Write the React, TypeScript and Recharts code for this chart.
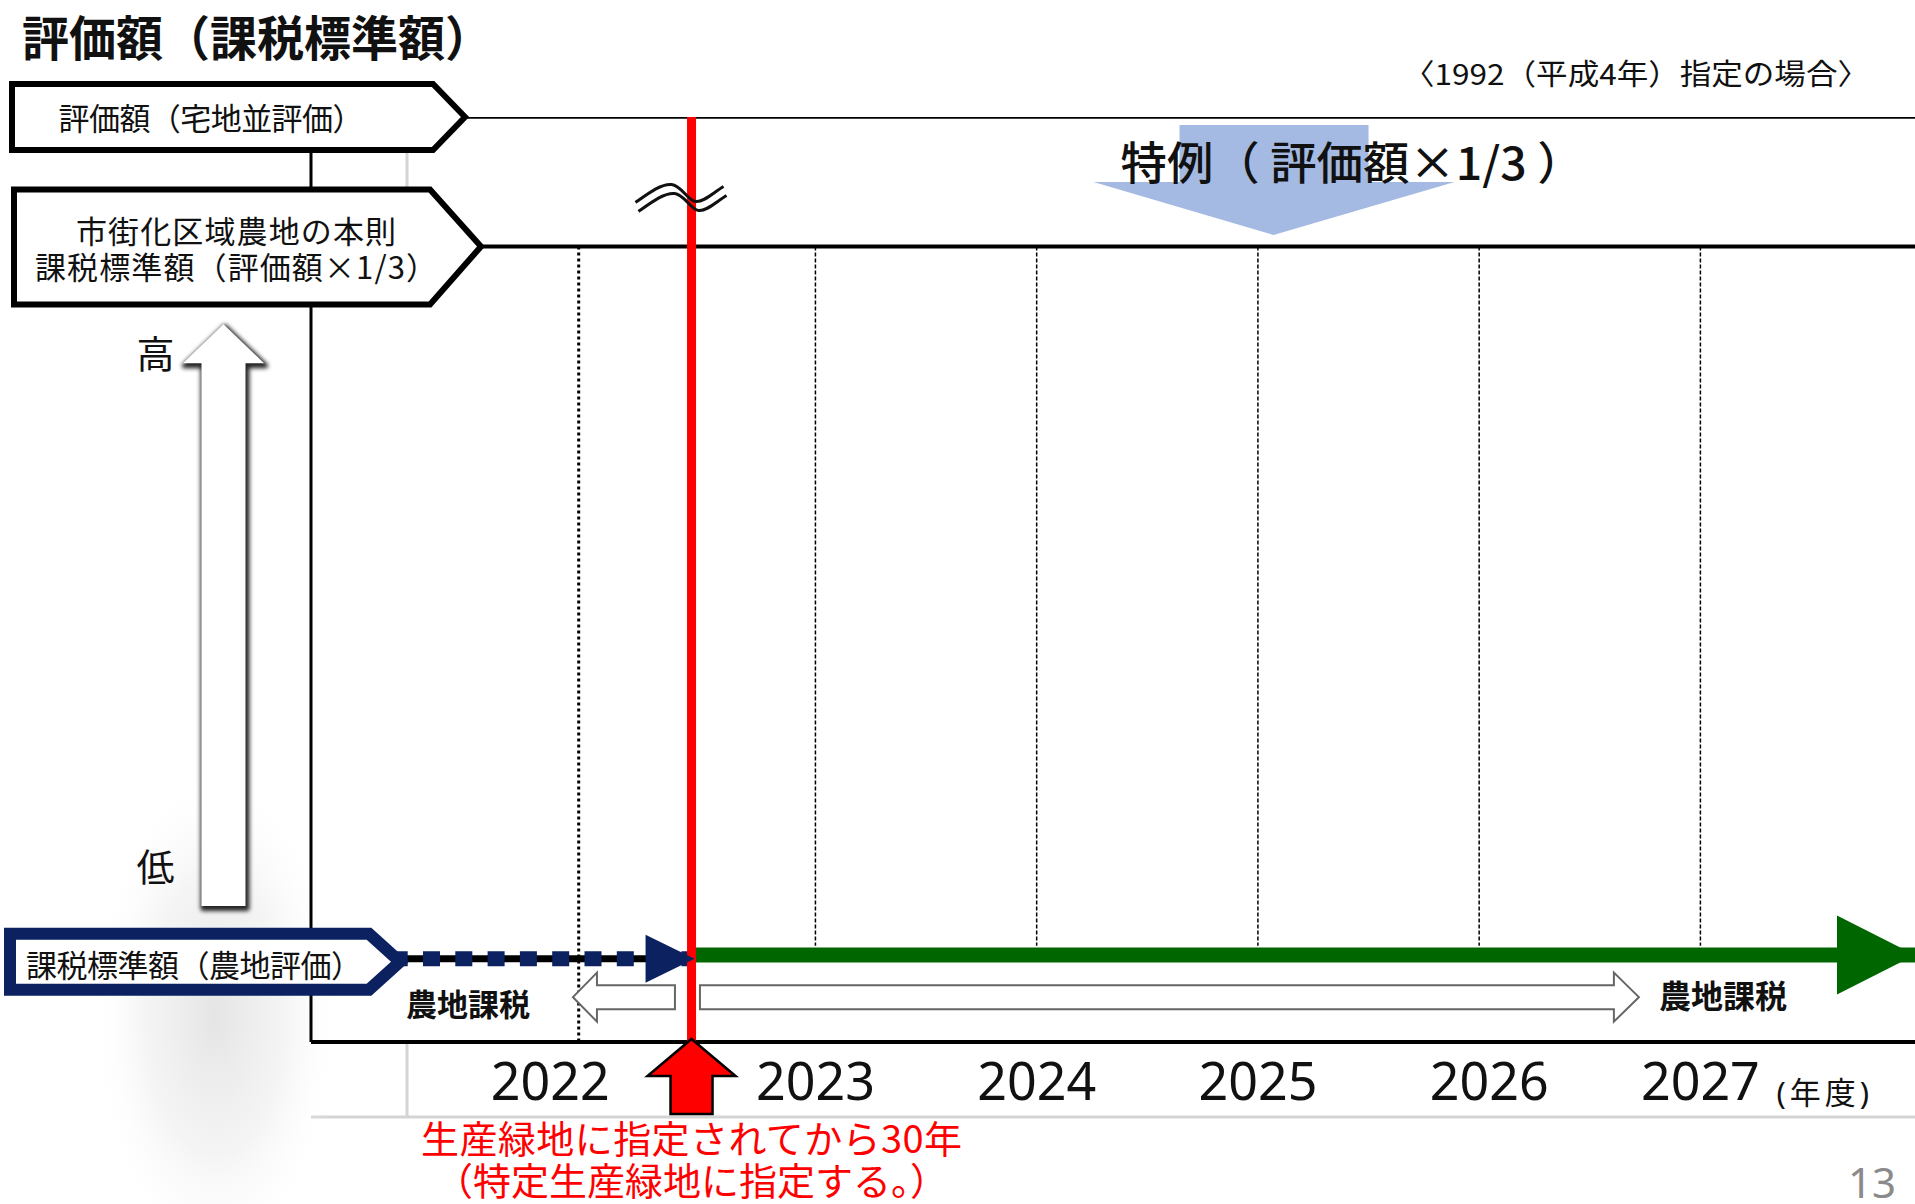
import React from 'react';
import { ComposedChart, Line, XAxis, YAxis, ReferenceLine, ReferenceArea, ReferenceDot } from 'recharts';

const FONT = "'Noto Sans', 'Noto Sans CJK JP', sans-serif";
const FONT_CJK = "'Noto Sans CJK JP', 'Noto Sans', sans-serif";
const NAVY = '#0b2160';
const GREEN = '#006600';
const RED = '#ff0000';

// ---------------- data ----------------
const TITLE = '評価額（課税標準額）';
const SUBTITLE = '〈1992（平成4年）指定の場合〉';
const PAGE_NUMBER = '13';

const YEAR_TICKS = [2022, 2023, 2024, 2025, 2026, 2027];
const YEAR_UNIT = '(年度)';
const X_DOMAIN: [number, number] = [2020.72, 2027.97];
const LEVEL_DOMAIN: [number, number] = [0, 100];

// levels (relative, axis is broken between the two upper levels)
const LEVEL_VALUES = [100, 86, 9.0];
const LEVEL_LABELS = [
  ['評価額（宅地並評価）'],
  ['市街化区域農地の本則', '課税標準額（評価額×1/3）'],
  ['課税標準額（農地評価）'],
];

const DESIGNATION_YEAR = 2022.44; // 30 years after 1992 designation
const BOUNDARY_YEARS = [2021.93, 2023, 2024, 2025, 2026, 2027];

const residentialSeries = [
  { year: 2020.72, value: 100 },
  { year: 2027.97, value: 100 },
];
const standardSeries = [
  { year: 2020.72, value: 86 },
  { year: 2027.97, value: 86 },
];
const farmBeforeSeries = [
  { year: 2020.72, value: 9.0 },
  { year: 2022.44, value: 9.0 },
];
const farmAfterSeries = [
  { year: 2022.44, value: 9.4 },
  { year: 2027.97, value: 9.4 },
];

const FARM_TAX_LABEL = '農地課税';
const FARM_TAX_ARROWS = [
  { from: 2021.904, to: 2022.365, dir: 'left' },
  { from: 2022.478, to: 2026.722, dir: 'right' },
];
const FARM_TAX_BAND: [number, number] = [2.2, 7.5];

const SPECIAL_LABEL = '特例（ 評価額×1/3 ）';
const DESIGNATION_NOTE = ['生産緑地に指定されてから30年', '（特定生産緑地に指定する。）'];

const SCALE_ARROW = { from: 2020.141, to: 2020.508, low: 14.7, high: 77.6 };
const SCALE_LABELS = ['高', '低'];
const BREAK_LEVEL = 91.3;
const FRAME_LEVEL = -8.1;
const FRAME_YEAR = 2021.154;

// ---------------- shapes ----------------
const BOX_GEOM = [
  { top: -33, bottom: 33, left: -299, right: 122, tip: 154, tipDy: 0, stroke: '#000', sw: 6, font: 31, cx: -100, baselines: [13], widths: [305] },
  { top: -57, bottom: 58, left: -297, right: 119, tip: 170, tipDy: 0, stroke: '#000', sw: 6, font: 31, cx: -75, baselines: [-4, 32], widths: [320, 402] },
  { top: -25, bottom: 31, left: -301, right: 58, tip: 89, tipDy: 3, stroke: NAVY, sw: 12, font: 31, cx: -117, baselines: [18], widths: [336] },
];

const LevelTick = (props: any) => {
  const { x, y, payload } = props;
  const i = LEVEL_VALUES.indexOf(payload.value);
  if (i < 0) return null;
  const g = BOX_GEOM[i];
  const d = `M${x + g.left},${y + g.top} L${x + g.right},${y + g.top} L${x + g.tip},${y + g.tipDy} L${x + g.right},${y + g.bottom} L${x + g.left},${y + g.bottom} Z`;
  return (
    <g>
      <path d={d} fill="#fff" stroke={g.stroke} strokeWidth={g.sw} strokeLinejoin="miter" />
      {LEVEL_LABELS[i].map((t, k) => (
        <text
          key={k}
          x={x + g.cx}
          y={y + g.baselines[k]}
          textAnchor="middle"
          fontSize={g.font}
          fontFamily={FONT_CJK}
          fill="#111"
          textLength={g.widths[k]}
          lengthAdjust="spacing"
        >
          {t}
        </text>
      ))}
    </g>
  );
};

const YEAR_NUDGE: Record<number, number> = { 2022: -44, 2026: 10 };

const YearTick = (props: any) => {
  const { x, y, payload } = props;
  const v = payload.value;
  const last = v === YEAR_TICKS[YEAR_TICKS.length - 1];
  return (
    <g>
      <text x={x + (YEAR_NUDGE[v] || 0)} y={y + 58} textAnchor="middle" fontSize={52} fontFamily={FONT} fill="#111">
        {v}
      </text>
      {last && (
        <text x={x + 76} y={y + 62} fontSize={31} fontFamily={FONT} fill="#111" letterSpacing={4}>
          {YEAR_UNIT}
        </text>
      )}
    </g>
  );
};

const ScaleArrowShape = (props: any) => {
  const { x, y, width, height } = props;
  const cx = x + width / 2;
  const headH = 39;
  const sh = 22;
  const d = `M${cx},${y} L${x + width},${y + headH} L${cx + sh},${y + headH} L${cx + sh},${y + height} L${cx - sh},${y + height} L${cx - sh},${y + headH} L${x},${y + headH} Z`;
  return (
    <g>
      <defs>
        <filter id="scaleBlur" x="-100%" y="-20%" width="300%" height="140%">
          <feGaussianBlur stdDeviation="2.2" />
        </filter>
        <radialGradient id="fuzz" cx="50%" cy="50%" r="50%">
          <stop offset="0%" stopColor="#e0e0e0" stopOpacity="0.85" />
          <stop offset="55%" stopColor="#ebebeb" stopOpacity="0.55" />
          <stop offset="100%" stopColor="#ffffff" stopOpacity="0" />
        </radialGradient>
      </defs>
      <ellipse cx={cx - 8} cy={y + height + 110} rx={125} ry={250} fill="url(#fuzz)" />
      <path d={d} fill="#000" stroke="#000" strokeWidth={5} strokeLinejoin="round" transform="translate(1.5,2.5)" filter="url(#scaleBlur)" opacity={0.85} />
      <path d={d} fill="#fff" />
      <text x={cx - 68} y={y + 44} textAnchor="middle" fontSize={38} fontFamily={FONT_CJK} fill="#111">{SCALE_LABELS[0]}</text>
      <text x={cx - 68} y={y + height - 25} textAnchor="middle" fontSize={38} fontFamily={FONT_CJK} fill="#111">{SCALE_LABELS[1]}</text>
    </g>
  );
};

const makeHollowArrow = (dir: string) => (props: any) => {
  const { x, y, width, height } = props;
  const cy = y + height / 2;
  const sh = 12;
  let d: string;
  let label: React.ReactNode;
  if (dir === 'left') {
    const hb = x + 24;
    d = `M${x},${cy} L${hb},${y} L${hb},${cy - sh} L${x + width},${cy - sh} L${x + width},${cy + sh} L${hb},${cy + sh} L${hb},${y + height} Z`;
    label = (
      <text x={x - 43} y={cy + 19} textAnchor="end" fontSize={31} fontWeight={700} fontFamily={FONT_CJK} fill="#111">{FARM_TAX_LABEL}</text>
    );
  } else {
    const r = x + width;
    const hb = r - 25;
    d = `M${r},${cy} L${hb},${y} L${hb},${cy - sh} L${x},${cy - sh} L${x},${cy + sh} L${hb},${cy + sh} L${hb},${y + height} Z`;
    label = (
      <text x={r + 20} y={cy + 11} textAnchor="start" fontSize={32} fontWeight={700} fontFamily={FONT_CJK} fill="#111">{FARM_TAX_LABEL}</text>
    );
  }
  return (
    <g>
      <path d={d} fill="#fff" stroke="#666" strokeWidth={2} />
      {label}
    </g>
  );
};

const SpecialShape = (props: any) => {
  const { x, y } = props;
  return (
    <g>
      <path
        d={`M${x + 488},${y + 8} L${x + 677},${y + 8} L${x + 677},${y + 65} L${x + 763},${y + 65} L${x + 582},${y + 118} L${x + 402},${y + 65} L${x + 488},${y + 65} Z`}
        fill="#a4bae2"
      />
      <text x={x + 429} y={y + 63} fontSize={45} fontWeight={500} fontFamily={FONT_CJK} fill="#111" textLength={463} lengthAdjust="spacingAndGlyphs">
        {SPECIAL_LABEL}
      </text>
    </g>
  );
};

const BreakShape = (props: any) => {
  const { cx, cy } = props;
  const p = (dx: number, dy: number) =>
    `M${cx - 56 + dx},${cy + 5 + dy} C${cx - 42 + dx},${cy - 5 + dy} ${cx - 30 + dx},${cy - 14 + dy} ${cx - 20 + dx},${cy - 13 + dy} C${cx - 10 + dx},${cy - 12 + dy} ${cx - 4 + dx},${cy + 3 + dy} ${cx + 4 + dx},${cy + 4 + dy} C${cx + 12 + dx},${cy + 5 + dy} ${cx + 22 + dx},${cy - 5 + dy} ${cx + 32 + dx},${cy - 11 + dy}`;
  return (
    <g fill="none" stroke="#111" strokeWidth={3}>
      <path d={p(0, 0)} />
      <path d={p(3, 9)} />
    </g>
  );
};

const NavyHead = (props: any) => {
  const { cx, cy } = props;
  return <path d={`M${cx - 46},${cy - 24} L${cx + 3},${cy} L${cx - 46},${cy + 24} Z`} fill={NAVY} />;
};

const GreenHead = (props: any) => {
  const { cx, cy } = props;
  return <path d={`M${cx - 78},${cy - 39.5} L${cx},${cy} L${cx - 78},${cy + 39.5} Z`} fill={GREEN} />;
};

const DesignationShape = (props: any) => {
  const { cx, cy } = props;
  const d = `M${cx},${cy - 3} L${cx + 44},${cy + 34} L${cx + 21},${cy + 34} L${cx + 21},${cy + 72} L${cx - 21},${cy + 72} L${cx - 21},${cy + 34} L${cx - 44},${cy + 34} Z`;
  return (
    <g>
      <path d={d} fill={RED} stroke="#000" strokeWidth={2.5} strokeLinejoin="miter" />
      <text x={cx} y={cy + 111} textAnchor="middle" fontSize={38} fontFamily={FONT_CJK} fill={RED} textLength={541} lengthAdjust="spacing">
        {DESIGNATION_NOTE[0]}
      </text>
      <text x={cx} y={cy + 153} textAnchor="middle" fontSize={38} fontFamily={FONT_CJK} fill={RED}>
        {DESIGNATION_NOTE[1]}
      </text>
    </g>
  );
};

export default function App() {
  return (
    <div style={{ position: 'relative', width: 1915, height: 1204, background: '#fff', overflow: 'hidden' }}>
      <style>{'body{margin:0;}'}</style>
      <ComposedChart width={1915} height={1204} margin={{ top: 117, right: 0, bottom: 102, left: 309 }}>
        {/* faint frame of the underlying slide */}
        <ReferenceLine segment={[{ x: X_DOMAIN[0], y: FRAME_LEVEL }, { x: X_DOMAIN[1], y: FRAME_LEVEL }]} stroke="#d4d4d4" strokeWidth={3} ifOverflow="visible" zIndex={50} />
        <ReferenceLine segment={[{ x: FRAME_YEAR, y: FRAME_LEVEL }, { x: FRAME_YEAR, y: 0 }]} stroke="#d4d4d4" strokeWidth={3} ifOverflow="visible" zIndex={50} />
        <ReferenceLine segment={[{ x: FRAME_YEAR, y: 86 }, { x: FRAME_YEAR, y: 100 }]} stroke="#d4d4d4" strokeWidth={3} ifOverflow="visible" zIndex={50} />

        <ReferenceArea x1={SCALE_ARROW.from} x2={SCALE_ARROW.to} y1={SCALE_ARROW.low} y2={SCALE_ARROW.high} ifOverflow="visible" shape={ScaleArrowShape} zIndex={60} />

        {BOUNDARY_YEARS.map((yr, i) => (
          <ReferenceLine
            key={'b' + i}
            segment={[{ x: yr, y: LEVEL_VALUES[1] }, { x: yr, y: i === 0 ? 0 : 10.4 }]}
            stroke="#000"
            strokeWidth={i === 0 ? 3 : 1.5}
            strokeDasharray={i === 0 ? '3 3' : '4 2'}
            ifOverflow="visible"
            zIndex={300}
          />
        ))}

        <Line data={residentialSeries} dataKey="value" stroke="#000" strokeWidth={3.5} dot={false} activeDot={false} isAnimationActive={false} zIndex={400} />
        <Line data={standardSeries} dataKey="value" stroke="#000" strokeWidth={4} dot={false} activeDot={false} isAnimationActive={false} zIndex={400} />
        <Line data={farmBeforeSeries} dataKey="value" stroke="#000" strokeWidth={7} dot={false} activeDot={false} isAnimationActive={false} zIndex={400} />
        <Line data={farmBeforeSeries} dataKey="value" stroke={NAVY} strokeWidth={15} strokeDasharray="17 15.3" strokeDashoffset={17.2} dot={false} activeDot={false} isAnimationActive={false} zIndex={400} />
        <Line data={farmAfterSeries} dataKey="value" stroke={GREEN} strokeWidth={15} dot={false} activeDot={false} isAnimationActive={false} zIndex={400} />

        {FARM_TAX_ARROWS.map((a, i) => (
          <ReferenceArea key={'a' + i} x1={a.from} x2={a.to} y1={FARM_TAX_BAND[0]} y2={FARM_TAX_BAND[1]} ifOverflow="visible" shape={makeHollowArrow(a.dir)} zIndex={450} />
        ))}
        <ReferenceArea x1={DESIGNATION_YEAR} x2={X_DOMAIN[1]} y1={LEVEL_VALUES[1]} y2={LEVEL_VALUES[0]} ifOverflow="visible" shape={SpecialShape} zIndex={450} />

        <XAxis
          type="number"
          dataKey="year"
          domain={X_DOMAIN}
          allowDataOverflow
          ticks={YEAR_TICKS}
          interval={0}
          height={60}
          tickLine={false}
          tickSize={0}
          tickMargin={0}
          axisLine={{ stroke: '#000', strokeWidth: 4 }}
          tick={YearTick}
          zIndex={500}
        />

        <ReferenceLine x={DESIGNATION_YEAR} stroke={RED} strokeWidth={9} ifOverflow="visible" zIndex={700} />

        <ReferenceDot x={DESIGNATION_YEAR} y={LEVEL_VALUES[2]} ifOverflow="visible" shape={NavyHead} zIndex={750} />
        <ReferenceDot x={X_DOMAIN[1]} y={farmAfterSeries[1].value} ifOverflow="visible" shape={GreenHead} zIndex={750} />
        <ReferenceDot x={DESIGNATION_YEAR} y={BREAK_LEVEL} ifOverflow="visible" shape={BreakShape} zIndex={800} />

        <YAxis
          type="number"
          domain={LEVEL_DOMAIN}
          allowDataOverflow
          ticks={LEVEL_VALUES}
          interval={0}
          width={2}
          tickSize={0}
          tickMargin={0}
          tickLine={false}
          axisLine={{ stroke: '#000', strokeWidth: 3 }}
          tick={LevelTick}
          zIndex={900}
        />

        <ReferenceDot x={DESIGNATION_YEAR} y={0} ifOverflow="visible" shape={DesignationShape} zIndex={1000} />
      </ComposedChart>

      <svg width={1915} height={1204} style={{ position: 'absolute', left: 0, top: 0, pointerEvents: 'none' }}>
        <text x={22} y={56} fontSize={48} fontWeight={700} fontFamily={FONT_CJK} fill="#111" textLength={470} lengthAdjust="spacingAndGlyphs">
          {TITLE}
        </text>
        <text x={1403} y={85} fontSize={29} fontFamily={FONT_CJK} fill="#111" textLength={466} lengthAdjust="spacingAndGlyphs">
          {SUBTITLE}
        </text>
        <text x={1896} y={1198} textAnchor="end" fontSize={42} fontFamily={FONT} fill="#8a8a8a">
          {PAGE_NUMBER}
        </text>
      </svg>
    </div>
  );
}
